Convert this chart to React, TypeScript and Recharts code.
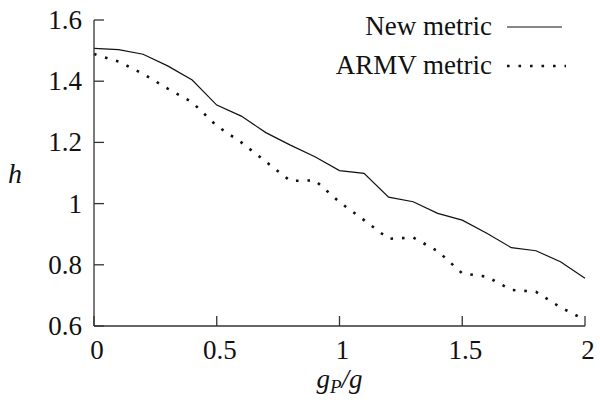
import { LineChart, Line, XAxis, YAxis, Legend } from "recharts";

const gRatio = [0, 0.1, 0.2, 0.3, 0.4, 0.5, 0.6, 0.7, 0.8, 0.9, 1, 1.1, 1.2, 1.3, 1.4, 1.5, 1.6, 1.7, 1.8, 1.9, 2];
const newMetric = [1.507, 1.503, 1.488, 1.45, 1.404, 1.322, 1.286, 1.232, 1.191, 1.153, 1.108, 1.099, 1.021, 1.006, 0.968, 0.946, 0.903, 0.856, 0.846, 0.81, 0.756];
const armvMetric = [1.489, 1.464, 1.424, 1.376, 1.331, 1.254, 1.2, 1.137, 1.074, 1.076, 1.005, 0.946, 0.885, 0.889, 0.845, 0.772, 0.761, 0.718, 0.712, 0.661, 0.62];
const seriesNames = ["New metric", "ARMV metric"];
const xTicks = [0, 0.5, 1, 1.5, 2];
const yTicks = [0.6, 0.8, 1, 1.2, 1.4, 1.6];

const data = gRatio.map((g, i) => ({ g, newMetric: newMetric[i], armv: armvMetric[i] }));

const FONT = "Liberation Serif, DejaVu Serif, Times New Roman, serif";
const AXIS = "#333";
const INK = "#111";
const DOTS = "2.6 8.9";

function YTick({ x, y, payload }: any) {
  return (
    <g>
      <line x1={x} x2={x + 10} y1={y} y2={y} stroke={AXIS} strokeWidth={1.3} />
      <text x={x - 12} y={y + 9} textAnchor="end" style={{ fontFamily: FONT }} fontSize={27} fill={INK}>
        {String(payload.value)}
      </text>
    </g>
  );
}

function XTick({ x, y, payload }: any) {
  return (
    <g>
      <line x1={x} x2={x} y1={y} y2={y - 10} stroke={AXIS} strokeWidth={1.3} />
      <text x={x + 3} y={y + 33} textAnchor="middle" style={{ fontFamily: FONT }} fontSize={27} fill={INK}>
        {String(payload.value)}
      </text>
    </g>
  );
}

function LegendBox({ payload }: any) {
  const rows = [...(payload || [])].sort(
    (a: any, b: any) => seriesNames.indexOf(a.value) - seriesNames.indexOf(b.value)
  );
  return (
    <svg width={600} height={80} style={{ display: "block" }}>
      {rows.map((entry: any, i: number) => {
        const base = 35 + i * 39;
        const dash = entry.payload?.strokeDasharray;
        return (
          <g key={entry.value}>
            <text x={492} y={base} textAnchor="end" style={{ fontFamily: FONT }} fontSize={27} fill={INK}>
              {entry.value}
            </text>
            <line
              x1={507}
              x2={dash ? 566 : 562}
              y1={base - 8}
              y2={base - 8}
              stroke={INK}
              strokeWidth={dash ? 2.6 : 1.2}
              strokeDasharray={dash}
            />
          </g>
        );
      })}
    </svg>
  );
}

export default function App() {
  return (
    <div style={{ position: "absolute", left: 0, top: 0, background: "#fff", fontFamily: FONT }}>
      <LineChart width={600} height={404} data={data} margin={{ top: 20, right: 15, bottom: 0, left: 0 }}>
        <XAxis
          dataKey="g"
          type="number"
          domain={[0, 2]}
          ticks={xTicks}
          interval={0}
          height={78}
          tickSize={0}
          tickMargin={0}
          tickLine={false}
          stroke={AXIS}
          strokeWidth={1.3}
          tick={<XTick />}
          label={{
            content: (props: any) => {
              const vb = props.viewBox || { x: 94, y: 326, width: 491 };
              return (
                <text x={vb.x + vb.width / 2} y={vb.y + 62} textAnchor="middle" style={{ fontFamily: FONT }} fontSize={27} fontStyle="italic" fill={INK}>
                  <tspan>g</tspan>
                  <tspan fontSize={19} dy={5}>P</tspan>
                  <tspan dy={-5}>/g</tspan>
                </text>
              );
            },
          }}
        />
        <YAxis
          type="number"
          domain={[0.6, 1.6]}
          ticks={yTicks}
          interval={0}
          width={94}
          tickSize={0}
          tickMargin={0}
          tickLine={false}
          stroke={AXIS}
          strokeWidth={1.3}
          tick={<YTick />}
          label={{
            content: () => (
              <text x={8} y={183} style={{ fontFamily: FONT }} fontSize={28} fontStyle="italic" fill={INK}>
                h
              </text>
            ),
          }}
        />
        <Legend
          layout="vertical"
          align="center"
          verticalAlign="middle"
          content={<LegendBox />}
          wrapperStyle={{ position: "absolute", top: 0, left: 0, width: 600, height: 80 }}
        />
        <Line
          type="linear"
          dataKey="newMetric"
          name={seriesNames[0]}
          stroke={INK}
          strokeWidth={1.2}
          dot={false}
          activeDot={false}
          isAnimationActive={false}
        />
        <Line
          type="linear"
          dataKey="armv"
          name={seriesNames[1]}
          stroke={INK}
          strokeWidth={2.6}
          strokeDasharray={DOTS}
          dot={false}
          activeDot={false}
          isAnimationActive={false}
        />
      </LineChart>
    </div>
  );
}
